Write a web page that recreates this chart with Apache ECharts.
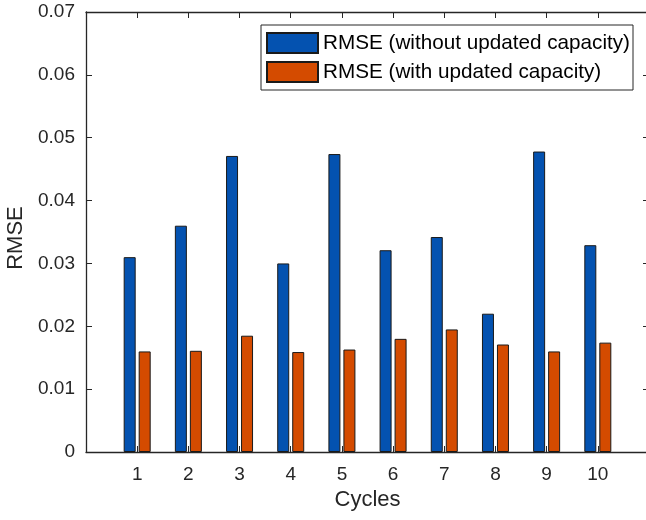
<!DOCTYPE html>
<html>
<head>
<meta charset="utf-8">
<script src="https://cdn.jsdelivr.net/npm/echarts@6/dist/echarts.min.js"></script>
<style>
html,body{margin:0;padding:0;background:#fff;}
#chart{width:646px;height:520px;}
</style>
</head>
<body>
<div id="chart"></div>
<script>
const cycles = [1, 2, 3, 4, 5, 6, 7, 8, 9, 10];
const rmseWithout = [0.0310, 0.0360, 0.0471, 0.0300, 0.0474, 0.0321, 0.0342, 0.0220, 0.0478, 0.0329];
const rmseWith = [0.0160, 0.0161, 0.0185, 0.0159, 0.0163, 0.0180, 0.0195, 0.0171, 0.0160, 0.0174];
const seriesNames = ['RMSE (without updated capacity)', 'RMSE (with updated capacity)'];
const yTicks = [0, 0.01, 0.02, 0.03, 0.04, 0.05, 0.06, 0.07];

const FONT = '"Liberation Sans", Arial, Helvetica, sans-serif';
const TXT = '#262626';

const chart = echarts.init(document.getElementById('chart'), null, {renderer: 'canvas'});
const axisLine = {show: true, onZero: false, lineStyle: {color: TXT, width: 1.3}};
const tick = {show: true, inside: true, length: 6, lineStyle: {color: TXT, width: 1}};

chart.setOption({
  animation: false,
  backgroundColor: '#fff',
  grid: {left: 86, top: 12, width: 563, height: 440, containLabel: false, outerBoundsMode: 'none'},
  legend: {
    orient: 'vertical',
    left: 261,
    top: 25,
    padding: [7, 3, 7, 5],
    itemWidth: 51,
    itemHeight: 20,
    itemGap: 7,
    icon: 'rect',
    borderColor: TXT,
    borderWidth: 1,
    backgroundColor: '#fff',
    textStyle: {fontFamily: FONT, fontSize: 20.7, color: '#000'},
    data: seriesNames
  },
  xAxis: [{
    type: 'value',
    min: 0, max: 11, interval: 1,
    position: 'bottom',
    name: 'Cycles',
    nameLocation: 'middle',
    nameGap: 37,
    nameTextStyle: {fontFamily: FONT, fontSize: 22, color: TXT},
    axisLine: axisLine,
    axisTick: tick,
    splitLine: {show: false},
    axisLabel: {
      fontFamily: FONT, fontSize: 19, color: TXT, margin: 13,
      formatter: v => cycles.indexOf(v) >= 0 ? String(v) : ''
    }
  }, {
    type: 'value',
    min: 0, max: 11, interval: 1,
    position: 'top',
    axisLine: axisLine,
    axisTick: tick,
    splitLine: {show: false},
    axisLabel: {show: false}
  }],
  yAxis: [{
    type: 'value',
    min: 0, max: 0.07, interval: 0.01,
    position: 'left',
    name: 'RMSE',
    nameLocation: 'middle',
    nameGap: 55,
    nameTextStyle: {fontFamily: FONT, fontSize: 22, color: TXT, padding: [0, 12, 0, 0]},
    axisLine: axisLine,
    axisTick: tick,
    splitLine: {show: false},
    axisLabel: {
      fontFamily: FONT, fontSize: 19, color: TXT, margin: 11,
      formatter: v => { const i = yTicks.findIndex(t => Math.abs(t - v) < 1e-9); return i >= 0 ? String(+yTicks[i].toFixed(2)) : ''; }
    }
  }, {
    type: 'value',
    min: 0, max: 0.07, interval: 0.01,
    position: 'right',
    axisLine: axisLine,
    axisTick: tick,
    splitLine: {show: false},
    axisLabel: {show: false}
  }],
  series: [{
    name: seriesNames[0],
    type: 'bar',
    xAxisIndex: 0, yAxisIndex: 0,
    barWidth: 12,
    barGap: '25%',
    itemStyle: {color: '#0452b0', borderColor: '#1a1a1a', borderWidth: 1},
    data: cycles.map((c, i) => [c, rmseWithout[i]])
  }, {
    name: seriesNames[1],
    type: 'bar',
    xAxisIndex: 0, yAxisIndex: 0,
    barWidth: 12,
    barGap: '25%',
    itemStyle: {color: '#d44b00', borderColor: '#1a1a1a', borderWidth: 1},
    data: cycles.map((c, i) => [c, rmseWith[i]])
  }]
});
</script>
</body>
</html>
